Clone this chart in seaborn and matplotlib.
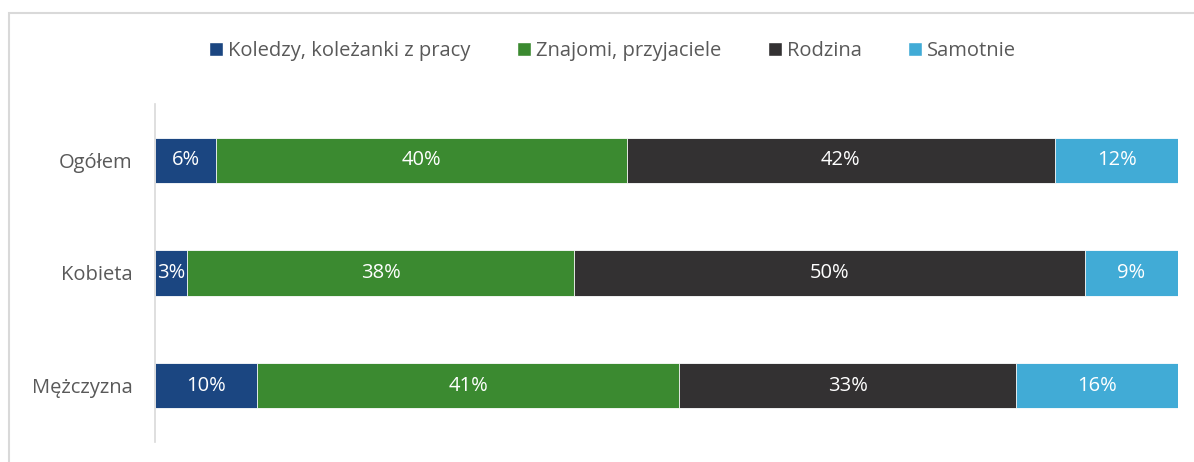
import numpy as np
import pandas as pd
import matplotlib
matplotlib.use('Agg')
import matplotlib.pyplot as plt
import seaborn as sns
from matplotlib.patches import Patch, Rectangle

groups = ['Ogółem', 'Kobieta', 'Mężczyzna']
series = ['Koledzy, koleżanki z pracy', 'Znajomi, przyjaciele', 'Rodzina', 'Samotnie']
koledzy = [6.0, 3.1, 10.0]
znajomi = [40.1, 37.9, 41.2]
rodzina = [41.9, 49.9, 33.0]
samotnie = [12.0, 9.1, 15.8]
labels = [['6%', '40%', '42%', '12%'],
          ['3%', '38%', '50%', '9%'],
          ['10%', '41%', '33%', '16%']]
colors = ['#1b4681', '#3b8a30', '#333132', '#41abd6']

sns.set_style('white')
plt.rcParams['font.family'] = ['Open Sans', 'DejaVu Sans']

df = pd.DataFrame({'grupa': groups, series[0]: koledzy, series[1]: znajomi,
                   series[2]: rodzina, series[3]: samotnie})
vals = df[series].to_numpy()
cum = vals.cumsum(axis=1)

fig = plt.figure(figsize=(11.94, 4.62), dpi=100)
ax = fig.add_axes([0.1298, 0.0433, 0.8568, 0.7316])

# stacked bars: draw cumulative totals, widest first
for i in range(len(series) - 1, -1, -1):
    tmp = pd.DataFrame({'grupa': groups, 'cum': cum[:, i]})
    sns.barplot(data=tmp, x='cum', y='grupa', orient='h', color=colors[i],
                width=0.4, edgecolor='white', linewidth=0.6, saturation=1, ax=ax)

for r in range(len(groups)):
    for c in range(len(series)):
        xc = cum[r, c] - vals[r, c] / 2
        ax.text(xc, r, labels[r][c], ha='center', va='center', color='white', fontsize=14.5)

ax.set_xlim(0, 100)
ax.set_ylim(2.5, -0.5)
ax.set_xlabel('')
ax.set_ylabel('')
ax.set_xticks([])
ax.tick_params(axis='y', length=0, pad=16, labelsize=14.5, labelcolor='#595959')
for s in ['top', 'right', 'bottom']:
    ax.spines[s].set_visible(False)
ax.spines['left'].set_color('#d9d9d9')
ax.spines['left'].set_linewidth(1.2)

handles = [Patch(facecolor=colors[i], label=series[i]) for i in range(len(series))]
fig.legend(handles=handles, loc='center', bbox_to_anchor=(0.513, 0.89), ncol=4, frameon=False,
           fontsize=14.5, labelcolor='#595959', handlelength=0.7, handleheight=0.7,
           handletextpad=0.25, columnspacing=2.3)

# outer chart border
fig.patches.append(Rectangle((9 / 1194, -0.1), 1.2, 1 - 13 / 462 + 0.1, transform=fig.transFigure,
                             fill=False, edgecolor='#d9d9d9', linewidth=1.5))

fig.savefig('out.png', dpi=100)
